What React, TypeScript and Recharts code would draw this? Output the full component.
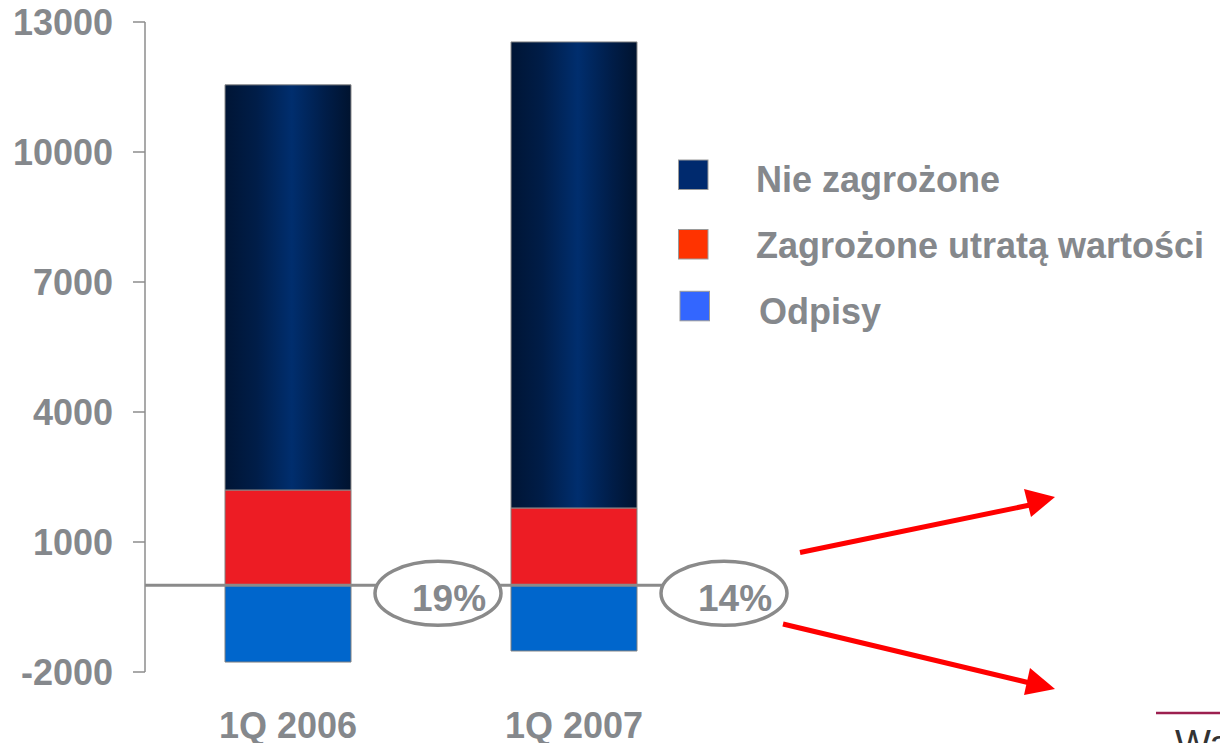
import React from 'react';
import { BarChart, Bar, XAxis, YAxis, ReferenceLine, Legend, LabelList } from 'recharts';

const categories = ['1Q 2006', '1Q 2007'];
const nieZagrozone = [9350, 10755];
const zagrozone = [2200, 1785];
const odpisy = [-1770, -1515];
const yTicks = [-2000, 1000, 4000, 7000, 10000, 13000];
const seriesNames = ['Nie zagrożone', 'Zagrożone utratą wartości', 'Odpisy'];
const legendColors = ['#002a6e', '#ff3300', '#3366ff'];

const data = categories.map((c, i) => ({
  name: c,
  zag: zagrozone[i],
  nie: nieZagrozone[i],
  odp: odpisy[i],
  pct: Math.round((zagrozone[i] / (zagrozone[i] + nieZagrozone[i])) * 100),
}));

const FONT = '"Liberation Sans", Arial, sans-serif';
const GRAY = '#85888c';

const PctLabel = (props: any) => {
  const { x, y, width, height, value } = props;
  const cx = Number(x) + Number(width) + 87;
  const cy = Number(y) + Number(height) + 8;
  return (
    <g>
      <ellipse cx={cx} cy={cy} rx={63} ry={32} fill="#ffffff" stroke="#8a8a8a" strokeWidth={3.5} />
      <text
        x={cx + 11}
        y={cy + 4}
        dy="0.36em"
        textAnchor="middle"
        fill={GRAY}
        fontSize={37}
        fontWeight="bold"
        fontFamily={FONT}
      >
        {value}%
      </text>
    </g>
  );
};

const renderLegend = () => {
  const rows = [
    { rx: 8.5, ry: 10, tx: 86, ty: 42.3 },
    { rx: 8.5, ry: 79.5, tx: 86, ty: 107.7 },
    { rx: 10, ry: 141.3, tx: 89, ty: 174 },
  ];
  return (
    <svg width={560} height={200} style={{ display: 'block' }}>
      {seriesNames.map((n, i) => (
        <g key={n}>
          <rect x={rows[i].rx} y={rows[i].ry} width={29.5} height={29.5} fill={legendColors[i]} stroke="#9a9a9a" strokeWidth={1} />
          <text x={rows[i].tx} y={rows[i].ty} fill={GRAY} fontSize={36} fontWeight="bold" fontFamily={FONT}>
            {n}
          </text>
        </g>
      ))}
    </svg>
  );
};

export default function App() {
  return (
    <div style={{ position: 'absolute', left: 0, top: 0, width: 1220, height: 743, background: '#fff', fontFamily: FONT }}>
      <BarChart
        width={1220}
        height={743}
        data={data}
        stackOffset="sign"
        margin={{ top: 22, right: 503, left: 0, bottom: 0 }}
      >
        <defs>
          <linearGradient id="navyGrad" x1="0" y1="0" x2="1" y2="0">
            <stop offset="0%" stopColor="#001535" />
            <stop offset="25%" stopColor="#001d48" />
            <stop offset="53%" stopColor="#002e6e" />
            <stop offset="80%" stopColor="#001d48" />
            <stop offset="100%" stopColor="#00132f" />
          </linearGradient>
        </defs>
        <XAxis
          dataKey="name"
          axisLine={false}
          tickLine={false}
          tickSize={0}
          tickMargin={40}
          height={71}
          tick={{ fill: GRAY, fontSize: 36, fontWeight: 'bold', fontFamily: FONT }}
        />
        <YAxis
          width={145}
          domain={[-2000, 13000]}
          ticks={yTicks}
          interval={0}
          tickSize={12}
          tickMargin={20}
          axisLine={{ stroke: '#8c8c8c', strokeWidth: 1.5 }}
          tickLine={{ stroke: '#8c8c8c', strokeWidth: 1.5 }}
          tick={{ fill: GRAY, fontSize: 36, fontWeight: 'bold', fontFamily: FONT }}
        />
        <ReferenceLine y={0} stroke="#8a8a8a" strokeWidth={3} />
        <Bar dataKey="zag" stackId="a" barSize={126} fill="#ed1c24" stroke="#808080" strokeWidth={1} isAnimationActive={false}>
          <LabelList dataKey="pct" content={PctLabel} />
        </Bar>
        <Bar dataKey="nie" stackId="a" barSize={126} fill="url(#navyGrad)" stroke="#8a8a8a" strokeWidth={1} isAnimationActive={false} />
        <Bar dataKey="odp" stackId="a" barSize={126} fill="#0066cc" stroke="#808080" strokeWidth={1} isAnimationActive={false} />
        <Legend
          layout="vertical"
          align="center"
          verticalAlign="middle"
          content={renderLegend}
          wrapperStyle={{ position: 'absolute', left: 670, top: 150, width: 560, height: 200 }}
        />
      </BarChart>
      <svg
        width={1220}
        height={743}
        style={{ position: 'absolute', left: 0, top: 0, pointerEvents: 'none' }}
      >
        <line x1={800} y1={552.5} x2={1030} y2={505} stroke="#ff0000" strokeWidth={5} />
        <polygon points="1024,489 1055,497 1031,517" fill="#ff0000" />
        <line x1={783} y1={624} x2={1030} y2={683} stroke="#ff0000" strokeWidth={5} />
        <polygon points="1030,668 1055,689 1024,695" fill="#ff0000" />
        <line x1={1156} y1={713} x2={1220} y2={713} stroke="#9c1f4f" strokeWidth={2.5} />
        <text x={1175} y={757} fontSize={38} fill="#333333" fontFamily={FONT}>
          Warszawa
        </text>
      </svg>
    </div>
  );
}
